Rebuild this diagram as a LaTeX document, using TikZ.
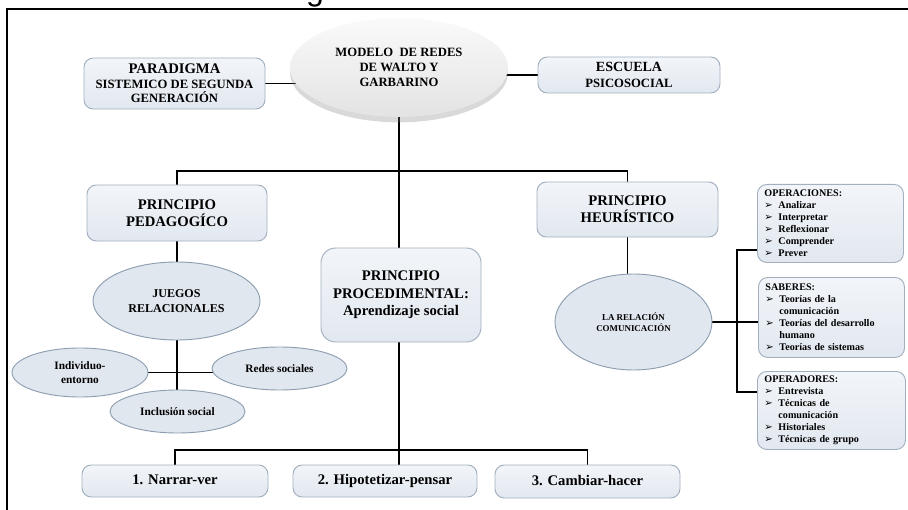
\documentclass[tikz,border=0pt]{standalone}
\usepackage{fontspec}
\setmainfont{Liberation Serif}
\newfontfamily\dejavu{DejaVu Sans}
\newfontfamily\titlefont{Liberation Sans}
\usetikzlibrary{shapes.geometric, shadows, backgrounds}
\definecolor{boxline}{HTML}{A2AFBF}
\definecolor{boxtop}{HTML}{F2F5F9}
\definecolor{boxbot}{HTML}{E2E8F0}
\definecolor{ovalline}{HTML}{8E9EB1}
\definecolor{ovalfill}{HTML}{E1E7EF}
\newcommand{\flecha}{\makebox[10.5pt][l]{\dejavu ➢}}

\begin{document}
\begin{tikzpicture}[x=0.75pt, y=-0.75pt,
  caja/.style={draw=boxline, line width=0.7pt, rounded corners=7pt,
    top color=boxtop, bottom color=boxbot, align=center, inner sep=0pt,
    font=\bfseries\fontsize{11}{13}\selectfont},
  paso/.style={caja, text height=8pt, text depth=2.5pt},
  ovalo/.style={ellipse, draw=ovalline, line width=0.7pt, fill=ovalfill,
    align=center, inner sep=0pt, font=\bfseries\fontsize{9}{11.25}\selectfont},
  lista/.style={caja, anchor=north west, align=left, inner xsep=7*\px,
    text width=132*\px, font=\bfseries\fontsize{7.6}{9}\selectfont},
  enlace/.style={line width=1.3pt}]
\def\px{0.75pt}
\useasboundingbox (0,0) rectangle (908,510);

% marco y titulo cortado
\draw[line width=1.5pt] (7,510) -- (7,9) -- (908,9);
\node[font=\titlefont\fontsize{24}{24}\selectfont, anchor=base, inner sep=0pt] (titulo) at (315,1) {g};

% nivel superior
\node[ellipse, minimum width=218*\px, minimum height=99*\px, inner sep=0pt,
  top color=gray!4, bottom color=gray!22,
  drop shadow={opacity=0.3, shadow xshift=0pt, shadow yshift=-4pt},
  align=center, font=\bfseries\fontsize{9.5}{11.5}\selectfont] (modelo) at (399,67.5)
  {MODELO\ \ DE REDES\\ DE WALTO Y\\ GARBARINO};
\node[caja, minimum width=181*\px, minimum height=51*\px,
  font=\bfseries\fontsize{9.5}{11}\selectfont] (para) at (174.5,83.5)
  {{\fontsize{11}{11}\selectfont PARADIGMA}\\ SISTEMICO DE SEGUNDA\\ GENERACIÓN};
\node[caja, minimum width=182*\px, minimum height=36*\px,
  font=\bfseries\fontsize{9.5}{11.5}\selectfont] (escuela) at (629,75)
  {{\fontsize{10.5}{11.5}\selectfont ESCUELA}\\ PSICOSOCIAL};

% principios
\node[caja, minimum width=180*\px, minimum height=56*\px] (ped) at (177,213) {PRINCIPIO\\ PEDAGOGÍCO};
\node[caja, minimum width=181*\px, minimum height=55*\px] (heu) at (627.5,209.5) {PRINCIPIO\\ HEURÍSTICO};
\node[caja, rounded corners=11pt, minimum width=160*\px, minimum height=94*\px] (proc) at (401,295)
  {PRINCIPIO\\ PROCEDIMENTAL:\\ Aprendizaje social};

% juegos relacionales
\node[ovalo, minimum width=167*\px, minimum height=78*\px] (jue) at (176.5,301) {JUEGOS\\ RELACIONALES};
\node[ovalo, font=\bfseries\fontsize{8.5}{11}\selectfont, minimum width=136*\px, minimum height=49*\px] (indiv) at (80,372.5) {Individuo-\\ entorno};
\node[ovalo, font=\bfseries\fontsize{8.5}{11}\selectfont, minimum width=135*\px, minimum height=43*\px] (redes) at (279.5,368.5) {Redes sociales};
\node[ovalo, font=\bfseries\fontsize{8.5}{11}\selectfont, minimum width=135*\px, minimum height=43*\px] (incl) at (177.5,411.5) {Inclusión social};

% relacion comunicacion y listas
\node[ovalo, font=\bfseries\fontsize{6.7}{8.3}\selectfont, minimum width=157*\px, minimum height=96*\px] (rel) at (633.5,322) {LA RELACIÓN\\ COMUNICACIÓN};
\node[lista, minimum height=78*\px] (ops) at (757,184)
  {OPERACIONES:\\ \flecha Analizar\\ \flecha Interpretar\\ \flecha Reflexionar\\ \flecha Comprender\\ \flecha Prever};
\node[lista, minimum height=80*\px] (sab) at (758,277)
  {SABERES:\\ \flecha Teorías de la\\ \hspace*{10.5pt}comunicación\\ \flecha Teorías del desarrollo\\ \hspace*{10.5pt}humano\\ \flecha Teorías de sistemas};
\node[lista, text width=134*\px, minimum height=78*\px] (opd) at (757,371)
  {OPERADORES:\\ \flecha Entrevista\\ \flecha Técnicas de\\ \hspace*{10.5pt}comunicación\\ \flecha Historiales\\ \flecha Técnicas de grupo};

% pasos
\node[paso, minimum width=186*\px, minimum height=32*\px] (n1) at (175,481) {1. Narrar-ver};
\node[paso, minimum width=184*\px, minimum height=32*\px] (n2) at (385,481) {2. Hipotetizar-pensar};
\node[paso, minimum width=185*\px, minimum height=33*\px] (n3) at (587.5,481.5) {3. Cambiar-hacer};

% conectores
\begin{scope}[on background layer]
\coordinate (bus1) at (399,171);
\coordinate (bus2) at (399,450);
\coordinate (barra) at (737,300);
\draw[enlace] (para.east) -- (para.east -| modelo.center);
\draw[enlace] (escuela.west) -- (escuela.west -| modelo.center);
\draw[enlace] (modelo.center) -- (modelo.center |- n2.north);
\draw[enlace] (ped.north) |- (bus1) -| (heu.north);
\draw[enlace] (ped.south) -- (ped.south |- incl.center);
\draw[enlace] (indiv.center) -- (indiv.center -| redes.center);
\draw[enlace] (heu.south) -- (heu.south |- rel.center);
\draw[enlace] (rel.center) -- (rel.center -| sab.west);
\draw[enlace] (ops.200) -| (barra) |- (opd.166);
\draw[enlace] (n1.north) |- (bus2) -| (n3.north);
\end{scope}
\end{tikzpicture}
\end{document}
